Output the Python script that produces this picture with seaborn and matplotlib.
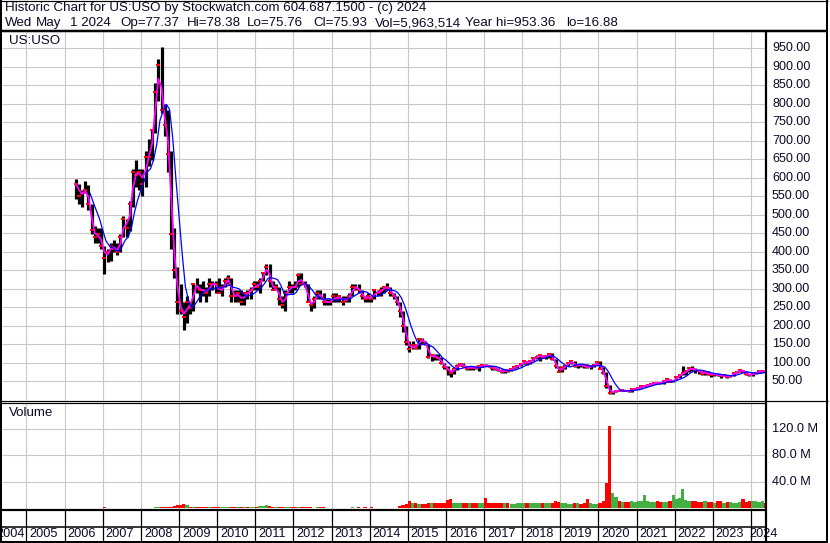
import numpy as np
import pandas as pd
import matplotlib
matplotlib.use("Agg")
import matplotlib.pyplot as plt
import matplotlib.transforms as mtransforms
from matplotlib.lines import Line2D
import seaborn as sns

# ---------------- data (monthly, Apr 2006 .. May 2024, split adjusted) -------------
start_month = "2006-04-01"

high = [
    596, 584, 568, 592, 580, 528, 470, 464, 464,                      # 2006 Apr-Dec
    416, 408, 424, 432, 424, 448, 496, 488, 536, 624, 648, 624,       # 2007
    624, 672, 704, 728, 856, 920, 953, 800, 784, 672, 464, 360,       # 2008
    312, 264, 280, 264, 312, 328, 312, 320, 304, 328, 320, 320,       # 2009
    328, 312, 328, 336, 328, 296, 296, 296, 288, 296, 304, 320,       # 2010
    320, 328, 344, 368, 368, 320, 312, 304, 280, 296, 320, 312,       # 2011
    320, 344, 344, 320, 312, 264, 280, 296, 296, 288, 272, 272,       # 2012
    288, 288, 280, 280, 280, 288, 312, 312, 312, 296, 280, 288,       # 2013
    280, 296, 296, 304, 304, 316, 304, 288, 280, 264, 240, 200,       # 2014
    160, 160, 152, 168, 168, 160, 152, 120, 124, 124, 116, 100,       # 2015
    92, 80, 84, 96, 100, 100, 92, 92, 90, 92, 92, 96,                 # 2016
    96, 94, 92, 88, 86, 82, 80, 82, 84, 88, 92, 96,                   # 2017
    106, 104, 106, 114, 120, 120, 122, 120, 124, 126, 110, 90,        # 2018
    90, 94, 100, 106, 106, 96, 98, 94, 98, 92, 96, 102,               # 2019
    104, 88, 74, 40, 25, 27, 26, 27, 27, 25, 28, 31,                  # 2020
    33, 38, 41, 41, 43, 47, 48, 47, 50, 56, 57, 53,                   # 2021
    61, 68, 92, 79, 86, 91, 86, 80, 78, 77, 78, 71,                   # 2022
    72, 70, 69, 70, 67, 66, 73, 76, 82, 81, 77, 70,                   # 2023
    72, 74, 78, 81, 78.38,                                            # 2024 Jan-May
]
low = [
    544, 528, 520, 560, 512, 448, 424, 424, 408,
    340, 372, 376, 400, 392, 400, 440, 440, 456, 520, 576, 568,
    552, 576, 632, 648, 720, 808, 776, 712, 616, 408, 328, 232,
    232, 189, 208, 232, 240, 288, 264, 280, 264, 280, 296, 288,
    288, 280, 304, 312, 264, 264, 264, 256, 256, 272, 272, 296,
    296, 288, 320, 336, 304, 296, 296, 256, 248, 240, 288, 288,
    296, 304, 312, 304, 264, 240, 248, 272, 272, 256, 256, 256,
    264, 264, 264, 256, 264, 264, 280, 296, 288, 272, 264, 264,
    264, 272, 280, 280, 288, 296, 280, 272, 256, 224, 184, 148,
    128, 136, 136, 136, 152, 148, 112, 104, 108, 108, 96, 84,
    68, 62, 70, 80, 90, 88, 80, 80, 80, 84, 78, 88,
    90, 88, 80, 80, 78, 72, 72, 76, 78, 82, 86, 90,
    96, 94, 96, 104, 110, 106, 112, 110, 114, 108, 86, 74,
    76, 84, 92, 98, 88, 86, 88, 86, 86, 84, 88, 94,
    84, 70, 32, 16.88, 17, 21, 24, 25, 23, 22, 22, 28,
    29, 32, 34, 36, 39, 43, 42, 42, 44, 50, 48, 47,
    53, 60, 66, 68, 76, 79, 72, 71, 66, 68, 67, 62,
    65, 65, 59, 63, 60, 61, 63, 72, 75, 74, 67, 65,
    65, 70, 72, 76, 75.76,
]
close = [
    584, 552, 560, 568, 528, 460, 440, 448, 416,
    384, 400, 416, 408, 400, 440, 488, 464, 528, 616, 608, 616,
    584, 656, 656, 728, 832, 904, 784, 744, 664, 448, 352, 264,
    240, 224, 264, 248, 312, 304, 296, 296, 288, 312, 312, 312,
    288, 304, 320, 328, 280, 280, 288, 264, 288, 288, 296, 312,
    304, 320, 344, 360, 320, 296, 304, 272, 256, 288, 304, 304,
    304, 336, 312, 312, 264, 256, 272, 288, 280, 264, 264, 264,
    280, 272, 280, 264, 272, 280, 304, 304, 296, 280, 272, 280,
    272, 296, 288, 296, 304, 304, 288, 280, 264, 240, 200, 156,
    136, 148, 140, 164, 160, 152, 116, 120, 116, 112, 100, 88,
    80, 72, 84, 92, 96, 92, 84, 88, 86, 86, 90, 94,
    92, 92, 86, 82, 80, 74, 80, 78, 84, 88, 92, 96,
    104, 100, 104, 112, 116, 120, 114, 118, 124, 110, 90, 76,
    86, 92, 100, 104, 90, 94, 94, 90, 88, 90, 94, 102,
    84, 72, 36, 18, 22, 25, 25, 26, 24, 23, 28, 30,
    32, 37, 38, 40, 43, 46, 46, 45, 50, 55, 49, 52,
    61, 67, 73, 77, 86, 82, 80, 77, 70, 75, 70, 68,
    69, 67, 65, 66, 62, 64, 73, 76, 81, 76, 69, 66,
    71, 73, 77, 78, 75.93,
]
volume_m = [
    0, 0, 0, 0, 0, 0, 0, 0, 0,
    1.5, 0, 0, 0, 0, 0, 0, 0, 0, 0, 0, 0,
    0, 0, 0, 0, 1.5, 1.5, 1.5, 1.5, 1.5, 2, 2.5, 4,
    5, 6, 4, 2, 1.5, 1.5, 1.5, 1.5, 1.5, 1.5, 1.5, 1.5,
    1.5, 1.5, 1.5, 1.5, 1.5, 1.5, 1.5, 1.5, 1.5, 1.5, 1.5, 1.5,
    2, 3, 3, 5, 3, 1.5, 1.5, 1.5, 1.5, 1.5, 1.5, 1.5,
    1.5, 1.5, 1.5, 1.5, 1.5, 1.5, 0, 1.5, 1.5, 1.5, 0, 0,
    0, 0, 0, 0, 0, 0, 1, 0, 1, 0, 1, 0,
    1, 0, 0, 0, 0, 0, 0, 0, 0, 3, 5, 6,
    10, 7, 7, 6, 6, 6, 7, 8, 7, 7, 7, 8,
    12, 13, 8, 7, 7, 7, 7, 7, 7, 7, 7, 8,
    15, 8, 8, 7, 7, 8, 7, 7, 6, 6, 7, 7,
    7, 8, 7, 7, 7, 7, 7, 7, 7, 8, 11, 9,
    8, 7, 6, 6, 7, 7, 6, 7, 13, 7, 6, 6,
    7, 10, 38, 125, 22, 16, 10, 9, 9, 9, 10, 9,
    10, 10, 19, 10, 9, 9, 10, 9, 9, 9, 10, 20,
    13, 15, 29, 12, 10, 11, 10, 9, 9, 10, 9, 9,
    8, 10, 10, 8, 9, 9, 8, 8, 9, 14, 9, 10,
    10, 10, 9, 10, 8,
]
year_labels = list(range(2004, 2025))
price_ticks = list(range(50, 1000, 50))
volume_ticks = [40, 80, 120]

header1 = "Historic Chart for US:USO by Stockwatch.com 604.687.1500 - (c) 2024"
header2_tokens = ["Wed", "May", "1 2024", "Op=77.37", "Hi=78.38", "Lo=75.76",
                  "Cl=75.93", "Vol=5,963,514", "Year hi=953.36", "lo=16.88"]
header2_x = [5, 36, 70, 120, 187, 247, 313, 375, 465, 566]

# ---------------- frame ------------------------------------------------------------
n = len(close)
months = pd.date_range(start_month, periods=n, freq="MS")
mstart = months.year + (months.month - 1) / 12
df = pd.DataFrame({
    "x": mstart + 1 / 24,
    "xend": mstart + 1 / 12,
    "high": high[:n], "low": low[:n], "close": close,
    "vol": volume_m[:n],
})
df["fast"] = df["close"].rolling(2, min_periods=1).mean()
df["slow"] = df["close"].rolling(5).mean()
up = df["close"].diff().fillna(0) > 0
df["vcolor"] = np.where(up, "#44b044", "#ff0000")

sns.set_style("white")
plt.rcParams["font.family"] = ["Liberation Sans", "DejaVu Sans"]

W, H = 830, 543
fig = plt.figure(figsize=(W / 100, H / 100), dpi=100)
fig.patch.set_facecolor("white")

def ax_px(x0, y0, x1, y1):
    return fig.add_axes([x0 / W, 1 - y1 / H, (x1 - x0) / W, (y1 - y0) / H])

PX_PER_YEAR = (751 - 26.5) / 19
XL = (2005 - (26.5 - 2) / PX_PER_YEAR, 2024 + (766 - 751) / PX_PER_YEAR)

ax_p = ax_px(2, 32, 766, 400.5)
ax_v = ax_px(2, 402.5, 766, 509.5)
ax_l = ax_px(2, 509.5, 766, 541)

GRID = "#c8c8c8"
for a in (ax_p, ax_v, ax_l):
    a.set_xlim(*XL)
    a.set_xticks([]); a.set_yticks([])
    for s in a.spines.values():
        s.set_visible(False)
    a.set_facecolor("white")

# price panel: y px = 399.8 - 0.37 * value
ax_p.set_ylim((399.8 - 400.5) / 0.37, (399.8 - 32) / 0.37)
# volume panel: y px = 508 - 0.66 * value(M)
ax_v.set_ylim((508 - 509.5) / 0.66, (508 - 402.5) / 0.66)
ax_l.set_ylim(0, 1)

years_b = list(range(2005, 2025))
for a in (ax_p, ax_v):
    a.vlines(years_b, *a.get_ylim(), color=GRID, lw=0.8, zorder=0)
ax_p.hlines(price_ticks, *XL, color=GRID, lw=0.8, zorder=0)
ax_v.hlines(volume_ticks, *XL, color=GRID, lw=0.8, zorder=0)
ax_l.vlines(years_b, 0, 1, color="black", lw=0.9, zorder=1)
ax_l.axhline(1 - (526.5 - 509.5) / 31.5, color="black", lw=1.1)

# price bars
bw = PX_PER_YEAR / 12 * 0.72
ax_p.vlines(df["x"], df["low"], df["high"], color="black", lw=bw, zorder=2)
ax_p.plot(df["x"], df["close"], ls="none", marker="_", ms=3, mew=1.4,
          color="#ff0000", zorder=3)
sns.lineplot(data=df, x="x", y="fast", ax=ax_p, color="#ff00ff", lw=1.3,
             zorder=4, errorbar=None)
sns.lineplot(data=df, x="xend", y="slow", ax=ax_p, color="#0000ff", lw=0.9,
             zorder=5, errorbar=None)
ax_p.set_xlabel(""); ax_p.set_ylabel("")
ax_p.set_xlim(*XL)
ax_p.set_xticks([]); ax_p.set_yticks([])

# volume bars
ax_v.bar(df["x"], df["vol"], width=1 / 12, color=df["vcolor"], lw=0, zorder=2)

TXT = "#0a0a28"
FS = 9.2
# right-hand tick labels
tp = mtransforms.blended_transform_factory(fig.transFigure, ax_p.transData)
for v in price_ticks:
    ax_p.text(772 / W, v, f"{v:.2f}", transform=tp, va="center", ha="left",
              fontsize=9.0, color=TXT, clip_on=False)
tv = mtransforms.blended_transform_factory(fig.transFigure, ax_v.transData)
for v in volume_ticks:
    ax_v.text(772 / W, v, f"{v:.1f} M", transform=tv, va="center", ha="left",
              fontsize=FS, color=TXT, clip_on=False)

# year labels: left aligned just after each year boundary
ly = 1 - (534 - 509.5) / 31.5
off = 3 / PX_PER_YEAR
for yr in year_labels:
    if yr == 2004:
        ax_l.text(2005 - 1.5 / PX_PER_YEAR, ly, str(yr), ha="right", va="center",
                  fontsize=FS, color=TXT, clip_on=True)
    elif yr == 2024:
        ax_l.text(yr - 1.5 / PX_PER_YEAR, ly, str(yr), ha="left", va="center",
                  fontsize=FS, color=TXT, clip_on=False)
    else:
        ax_l.text(yr + off, ly, str(yr), ha="left", va="center",
                  fontsize=FS, color=TXT, clip_on=False)

# header / legends
fig.text(5 / W, 1 - 8.5 / H, header1, fontsize=9.6, color=TXT, va="center", ha="left")
for t, xx in zip(header2_tokens, header2_x):
    fig.text(xx / W, 1 - 23.3 / H, t, fontsize=9.6, color=TXT, va="center", ha="left")
fig.text(9 / W, 1 - 41.5 / H, "US:USO", fontsize=9.6, color=TXT, va="center", ha="left")
fig.text(9 / W, 1 - 413 / H, "Volume", fontsize=9.6, color=TXT, va="center", ha="left")

# frame lines (pixel coordinates)
def hl(y, x0, x1, lw):
    fig.add_artist(Line2D([x0 / W, x1 / W], [1 - y / H] * 2, transform=fig.transFigure,
                          color="black", lw=lw * 0.72, solid_capstyle="butt", zorder=20))

def vl(x, y0, y1, lw):
    fig.add_artist(Line2D([x / W] * 2, [1 - y0 / H, 1 - y1 / H], transform=fig.transFigure,
                          color="black", lw=lw * 0.72, solid_capstyle="butt", zorder=20))

hl(30.5, 0, 828, 2.5)
hl(400.6, 0, 828, 1.2)
hl(402.6, 0, 766, 1.2)
hl(509.6, 0, 766, 2.2)
hl(541.5, 0, 828, 2)
hl(0.6, 0, 828, 1.2)
vl(766, 30, 542, 2.2)
vl(1, 0, 543, 2)
vl(827, 0, 542, 2)

fig.savefig("out.png", dpi=100, facecolor="white")
